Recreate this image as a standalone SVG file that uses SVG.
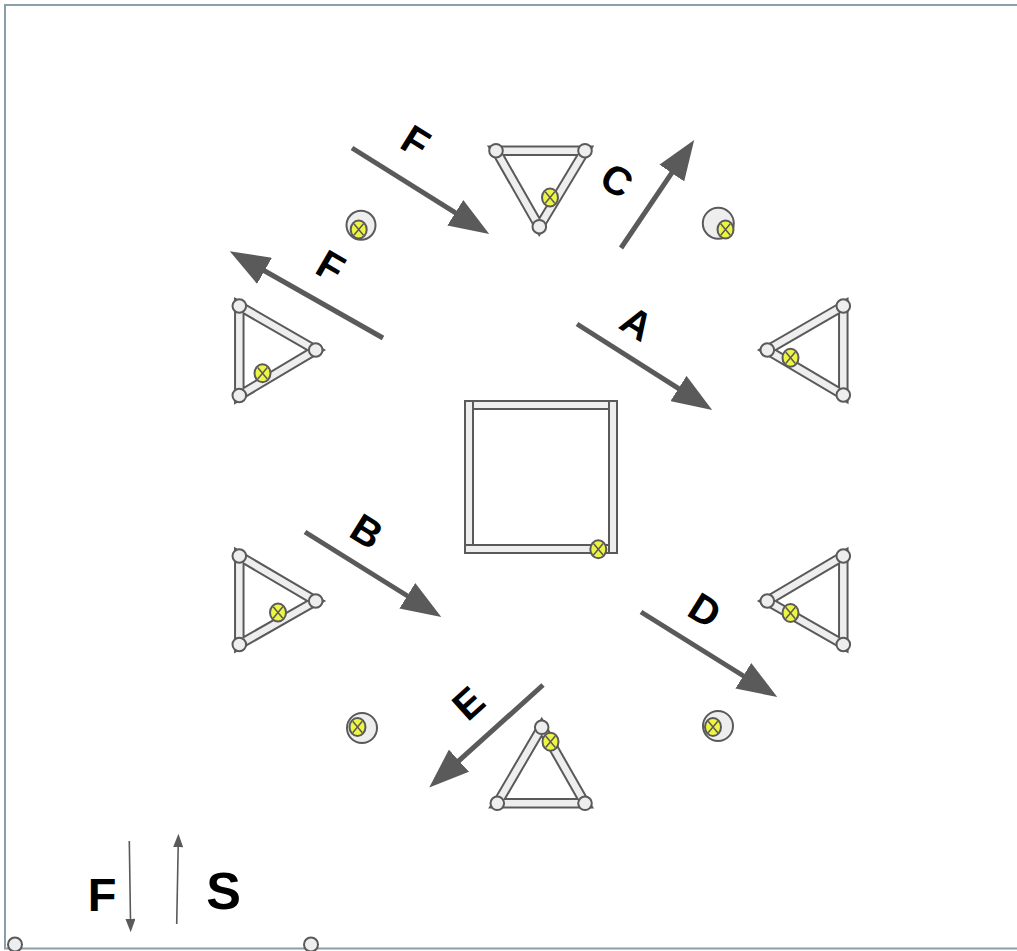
<svg xmlns="http://www.w3.org/2000/svg" width="1017" height="951" viewBox="0 0 1017 951">
<style>
.bo{stroke:#5a5a5a;stroke-width:10.5;fill:none}
.bi{stroke:#eeeeee;stroke-width:6.5;fill:none}
.v{fill:#eeeeee;stroke:#5a5a5a;stroke-width:2}
.big{fill:#eeeeee;stroke:#5a5a5a;stroke-width:2}
.y{fill:#eef542;stroke:#5a5a5a;stroke-width:2}
.x{stroke:#5a5a5a;stroke-width:1.5}
.ar{stroke:#5a5a5a;stroke-width:5;fill:none;marker-end:url(#h)}
.sm{stroke:#5a5a5a;stroke-width:1.6;fill:none;marker-end:url(#hs)}
.lb{font-family:"Liberation Sans",Arial,sans-serif;font-weight:bold;font-size:40px;fill:#000;text-anchor:middle}
.bar{fill:#eeeeee;stroke:#5a5a5a;stroke-width:2}
</style>
<defs>
<marker id="h" markerUnits="userSpaceOnUse" markerWidth="40" markerHeight="30" refX="2" refY="13.5" orient="auto" viewBox="0 0 36 27"><path d="M0,0 L36,13.5 L0,27 z" fill="#5a5a5a"/></marker>
<marker id="hs" markerUnits="userSpaceOnUse" markerWidth="14" markerHeight="10" refX="1" refY="4.5" orient="auto" viewBox="0 0 12 9"><path d="M0,0 L12,4.5 L0,9 z" fill="#5a5a5a"/></marker>
<g id="yel"><ellipse class="y" cx="0" cy="0" rx="8" ry="9"/><path class="x" d="M-4.8,-5.8 L4.8,5.8 M4.8,-5.8 L-4.8,5.8"/></g>
</defs>
<rect x="5" y="5" width="1030" height="943.5" fill="#ffffff" stroke="#8c9ea8" stroke-width="2"/>

<g id="connectors">
<line class="ar" x1="352" y1="148" x2="457.2" y2="213.9"/>
<line class="ar" x1="383" y1="338" x2="262.6" y2="269.8"/>
<line class="ar" x1="621" y1="248" x2="673" y2="171.2"/>
<line class="ar" x1="577" y1="324" x2="680.3" y2="389.7"/>
<line class="ar" x1="305" y1="532" x2="409.2" y2="597"/>
<line class="ar" x1="641" y1="612" x2="745.2" y2="677"/>
<line class="ar" x1="543" y1="685" x2="457.3" y2="762.2"/>
<line class="sm" x1="129.3" y1="841" x2="130.5" y2="920"/>
<line class="sm" x1="176.7" y1="924" x2="178.2" y2="846"/>
</g>

<g id="labels">
<text class="lb" transform="translate(416,141) rotate(32)" y="14.3">F</text>
<text class="lb" transform="translate(331,266) rotate(30)" y="14.3">F</text>
<text class="lb" transform="translate(617,180) rotate(32)" y="14.3">C</text>
<text class="lb" transform="translate(637,323) rotate(32)" y="14.3">A</text>
<text class="lb" transform="translate(367,531) rotate(32)" y="14.3">B</text>
<text class="lb" transform="translate(705,610) rotate(32)" y="14.3">D</text>
<text class="lb" transform="translate(468,703) rotate(-42)" y="14.3">E</text>
<text class="lb" x="102" y="910.5" style="font-size:47px">F</text>
<text class="lb" x="223.5" y="909" style="font-size:52px">S</text>
</g>

<g id="tri-top">
<path class="bo" d="M496,150.7 L585,150.7 L539.3,226.7 Z"/><path class="bi" d="M496,150.7 L585,150.7 L539.3,226.7 Z"/>
<circle class="v" cx="496" cy="150.7" r="6.8"/><circle class="v" cx="585" cy="150.7" r="6.8"/><circle class="v" cx="539.3" cy="226.7" r="6.8"/>
<use href="#yel" x="550" y="197.5"/>
</g>
<g id="tri-left-upper">
<path class="bo" d="M239.3,306 L239.3,395.5 L315.7,350 Z"/><path class="bi" d="M239.3,306 L239.3,395.5 L315.7,350 Z"/>
<circle class="v" cx="239.3" cy="306" r="6.8"/><circle class="v" cx="239.3" cy="395.5" r="6.8"/><circle class="v" cx="315.7" cy="350" r="6.8"/>
<use href="#yel" x="262.5" y="373.3"/>
</g>
<g id="tri-right-upper">
<path class="bo" d="M843.3,306 L843.3,395 L767.3,350 Z"/><path class="bi" d="M843.3,306 L843.3,395 L767.3,350 Z"/>
<circle class="v" cx="843.3" cy="306" r="6.8"/><circle class="v" cx="843.3" cy="395" r="6.8"/><circle class="v" cx="767.3" cy="350" r="6.8"/>
<use href="#yel" x="790.5" y="357.8"/>
</g>
<g id="tri-left-lower">
<path class="bo" d="M239.3,556 L239.3,644.5 L315.7,601 Z"/><path class="bi" d="M239.3,556 L239.3,644.5 L315.7,601 Z"/>
<circle class="v" cx="239.3" cy="556" r="6.8"/><circle class="v" cx="239.3" cy="644.5" r="6.8"/><circle class="v" cx="315.7" cy="601" r="6.8"/>
<use href="#yel" x="278" y="612.5"/>
</g>
<g id="tri-right-lower">
<path class="bo" d="M843.3,556 L843.3,644.5 L767.3,601 Z"/><path class="bi" d="M843.3,556 L843.3,644.5 L767.3,601 Z"/>
<circle class="v" cx="843.3" cy="556" r="6.8"/><circle class="v" cx="843.3" cy="644.5" r="6.8"/><circle class="v" cx="767.3" cy="601" r="6.8"/>
<use href="#yel" x="790.5" y="613"/>
</g>
<g id="tri-bottom">
<path class="bo" d="M541.7,727.3 L497.3,803.3 L585,803.3 Z"/><path class="bi" d="M541.7,727.3 L497.3,803.3 L585,803.3 Z"/>
<circle class="v" cx="541.7" cy="727.3" r="6.8"/><circle class="v" cx="497.3" cy="803.3" r="6.8"/><circle class="v" cx="585" cy="803.3" r="6.8"/>
<use href="#yel" x="550.5" y="741.7"/>
</g>

<g id="circ-tl"><circle class="big" cx="361" cy="225.3" r="14.5"/><use href="#yel" x="358.7" y="229.5"/></g>
<g id="circ-tr"><circle class="big" cx="718.3" cy="223.3" r="15.5"/><use href="#yel" x="725.5" y="229.5"/></g>
<g id="circ-bl"><circle class="big" cx="362" cy="728" r="15"/><use href="#yel" x="357.5" y="727"/></g>
<g id="circ-br"><circle class="big" cx="718" cy="726" r="15"/><use href="#yel" x="713" y="727"/></g>

<g id="square">
<rect class="bar" x="465" y="401" width="152" height="8"/>
<rect class="bar" x="465" y="401" width="8" height="145"/>
<rect class="bar" x="609" y="401" width="8" height="152"/>
<rect class="bar" x="465" y="545" width="144" height="8"/>
<use href="#yel" x="598.3" y="549.3"/>
</g>

<g id="pins">
<circle class="v" cx="15" cy="944.5" r="7"/>
<circle class="v" cx="311" cy="944.5" r="7"/>
</g>
</svg>
